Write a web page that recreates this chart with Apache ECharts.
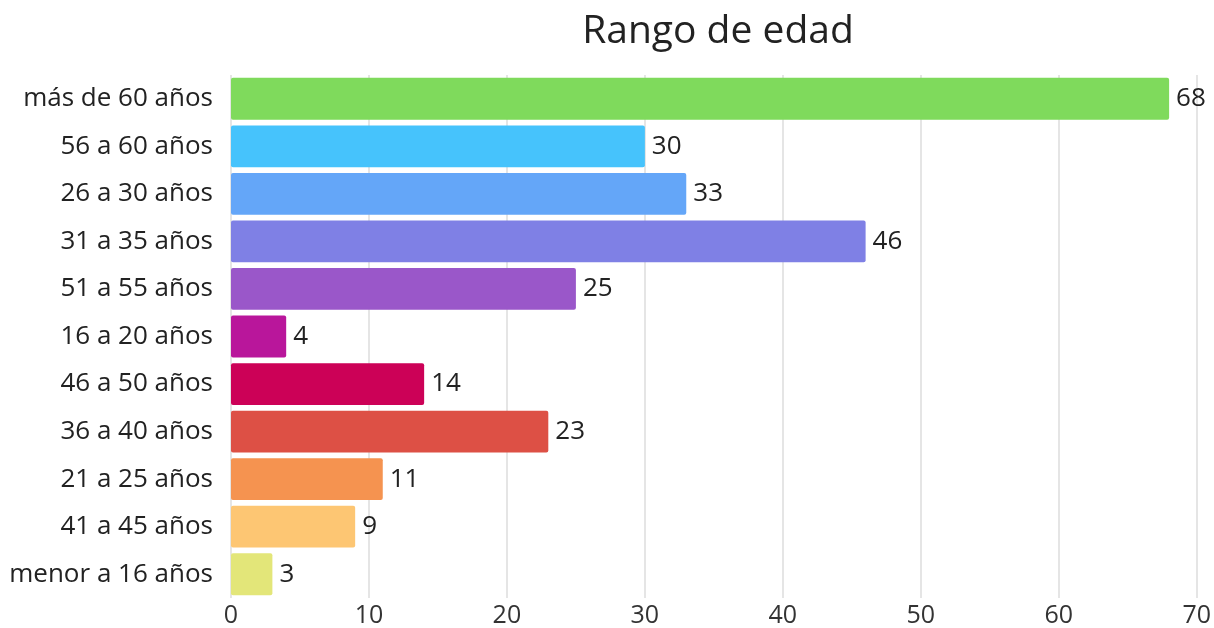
<!DOCTYPE html>
<html>
<head>
<meta charset="utf-8">
<script src="https://cdn.jsdelivr.net/npm/echarts@6/dist/echarts.min.js"></script>
<style>
  html, body { margin: 0; padding: 0; background: #fff; }
  #chart { width: 1214px; height: 628px; }
</style>
</head>
<body>
<div id="chart"></div>
<script>
// datos del gráfico (de arriba hacia abajo)
var categorias = ["más de 60 años", "56 a 60 años", "26 a 30 años", "31 a 35 años", "51 a 55 años",
    "16 a 20 años", "46 a 50 años", "36 a 40 años", "21 a 25 años", "41 a 45 años", "menor a 16 años"];
var valores = [68, 30, 33, 46, 25, 4, 14, 23, 11, 9, 3];
var colores = ["#7fda5c", "#46c3fc", "#64a6f8", "#7f80e5", "#9a57c9", "#b9169b",
    "#cc0157", "#dd5045", "#f59350", "#fdc673", "#e3e679"];

var myChart = echarts.init(document.getElementById('chart'));
var option = {
    title: {
        text: "Rango de edad",
        left: 713,
        textAlign: "center",
        top: 7,
        textStyle: {
            fontFamily: "Open Sans",
            fontSize: 39,
            fontWeight: "normal",
            color: "#222"
        }
    },
    grid: {
        left: 231,
        right: 17,
        top: 75,
        bottom: 30,
        containLabel: false
    },
    xAxis: {
        type: "value",
        min: 0,
        max: 70,
        interval: 10,
        axisLine: { show: false },
        axisTick: { show: false },
        splitLine: { lineStyle: { color: "#dcdcdc", width: 1.5 } },
        axisLabel: {
            fontFamily: "Open Sans",
            fontSize: 25,
            color: "#333",
            margin: 5
        }
    },
    yAxis: {
        type: "category",
        inverse: true,
        data: categorias,
        axisLine: { show: false },
        axisTick: { show: false },
        axisLabel: {
            fontFamily: "Open Sans",
            fontSize: 26,
            color: "#222",
            margin: 18,
            padding: [4, 0, 0, 0]
        }
    },
    series: [{
        type: "bar",
        barCategoryGap: "12%",
        data: valores.map(function (v, i) {
            return { value: v, itemStyle: { color: colores[i] } };
        }),
        itemStyle: { borderRadius: 2 },
        label: {
            show: true,
            position: "right",
            distance: 7,
            fontFamily: "Open Sans",
            fontSize: 26,
            color: "#222",
            padding: [4, 0, 0, 0]
        }
    }]
};
// cargar datos
myChart.setOption(option);
</script>
</body>
</html>
